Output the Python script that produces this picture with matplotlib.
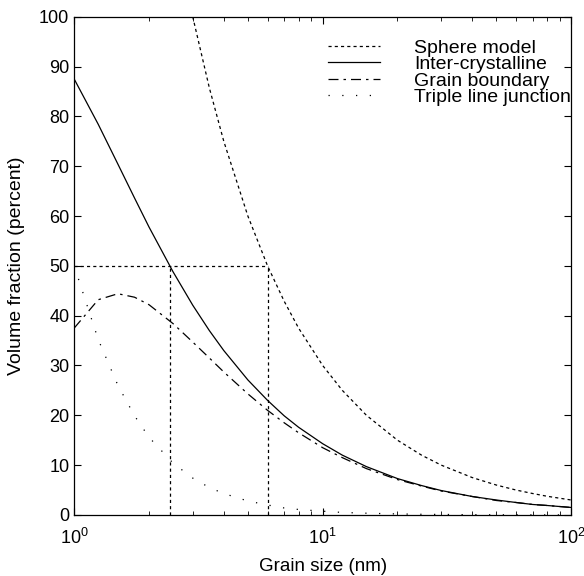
import matplotlib
matplotlib.use("Agg")
import matplotlib.pyplot as plt

plt.rcParams['font.family'] = ['Liberation Sans', 'DejaVu Sans']

# grain size (nm) and volume fractions (percent)
d_nm = [1, 1.25, 1.5, 1.75, 2, 2.5, 3, 3.5, 4, 5, 6, 7, 8, 10, 12, 15,
        20, 25, 30, 40, 50, 60, 70, 80, 100]
inter_cryst = [87.5, 78.4, 70.4, 63.6, 57.8, 48.8, 42.1, 37.0, 33.0, 27.1,
               23.0, 19.9, 17.6, 14.3, 12.0, 9.7, 7.3, 5.9, 4.9, 3.7, 3.0,
               2.5, 2.1, 1.9, 1.5]
grain_bound = [37.5, 43.2, 44.4, 43.7, 42.2, 38.4, 34.7, 31.5, 28.7, 24.3,
               21.0, 18.5, 16.5, 13.5, 11.5, 9.3, 7.1, 5.8, 4.8, 3.7, 2.9,
               2.5, 2.1, 1.9, 1.5]
triple_junc = [50.0, 35.2, 26.0, 19.9, 15.6, 10.4, 7.4, 5.5, 4.3, 2.8,
               2.0, 1.4, 1.1, 0.75, 0.5, 0.35, 0.2, 0.13, 0.1, 0.05, 0.03,
               0.02, 0.02, 0.01, 0.01]

d_sphere = [3, 3.5, 4, 5, 6, 7, 8, 10, 12, 15, 20, 25, 30, 40, 50, 60,
            70, 80, 100]
sphere = [100, 85.7, 75, 60, 50, 42.9, 37.5, 30, 25, 20, 15, 12, 10, 7.5,
          6, 5, 4.3, 3.75, 3]

# 50 percent crossing points
half_level = 50
d_half_ic = 2.43
d_half_sphere = 6.0

fig = plt.figure(figsize=(5.84, 5.76), dpi=100)
ax = fig.add_axes([0.127, 0.106, 0.851, 0.865])

short_dash = (0, (2.5, 2.5))
ax.plot(d_sphere, sphere, color='k', lw=0.9, ls=short_dash, label='Sphere model')
ax.plot(d_nm, inter_cryst, color='k', lw=0.9, ls='-', label='Inter-crystalline')
ax.plot(d_nm, grain_bound, color='k', lw=0.9, ls=(0, (8, 4, 2, 4)), label='Grain boundary')
ax.plot(d_nm, triple_junc, color='k', lw=0.9, ls=(0, (1, 10)), label='Triple line junction')

# guide lines at 50 percent
ax.plot([1, d_half_sphere], [half_level, half_level], color='k', lw=0.9, ls=short_dash)
ax.plot([d_half_ic, d_half_ic], [0, half_level], color='k', lw=0.9, ls=short_dash)
ax.plot([d_half_sphere, d_half_sphere], [0, half_level], color='k', lw=0.9, ls=short_dash)

ax.set_xscale('log')
ax.set_xlim(1, 100)
ax.set_ylim(0, 100)
ax.set_yticks(range(0, 101, 10))
ax.tick_params(which='both', direction='in', top=True, right=True, labelsize=13)
ax.tick_params(which='major', length=5)
ax.tick_params(which='minor', length=3)
ax.tick_params(axis='x', which='both', pad=9)
for s in ax.spines.values():
    s.set_linewidth(0.9)

ax.set_xlabel('Grain size (nm)', fontsize=13.5, va='top')
ax.xaxis.set_label_coords(0.5, -0.086)
ax.set_ylabel('Volume fraction (percent)', fontsize=14)
ax.yaxis.set_label_coords(-0.099, 0.5)

ax.legend(loc='upper right', frameon=False, fontsize=14, handlelength=2.7,
          labelspacing=-0.06, handletextpad=1.75, borderaxespad=0.0,
          borderpad=0.0, bbox_to_anchor=(1.0, 0.955))

fig.savefig('out.png', dpi=100)
